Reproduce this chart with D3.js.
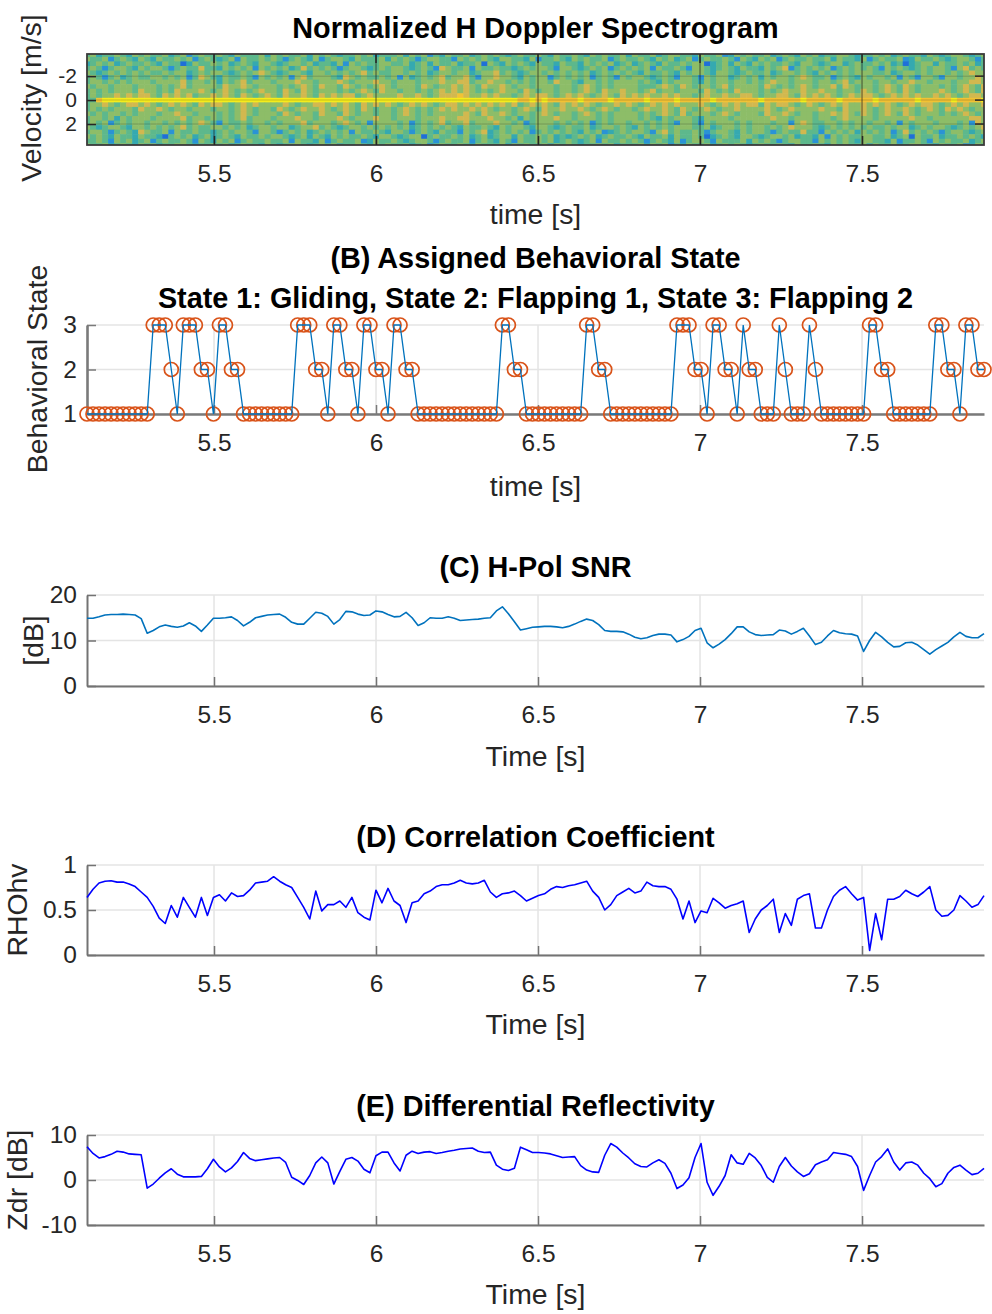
<!DOCTYPE html>
<html>
<head>
<meta charset="utf-8">
<script src="https://cdn.jsdelivr.net/npm/d3@7"></script>
<style>
  body { margin: 0; background: #fff; }
  svg { display: block; font-family: "Liberation Sans", Arial, Helvetica, sans-serif; }
</style>
</head>
<body>
<div id="chart"></div>
<script>
// ---- data ----
const t0 = 5.108;          // first sample [s]
const dt = 0.01858;        // sample spacing [s]
const timeTicks = [5.5, 6, 6.5, 7, 7.5];

const velocityBins = [-3.8, -3.42, -3.04, -2.66, -2.28, -1.9, -1.52, -1.14, -0.76, -0.38, 0,
                      0.38, 0.76, 1.14, 1.52, 1.9, 2.28, 2.66, 3.04, 3.42, 3.8];
const velocityTicks = [-2, 0, 2];

// spectrogram levels 2-9, one string per velocity bin, one char per time sample
const spectrogramRows = [
  "5645565465 6556456356 5565465556 4656556465 6545565645 5564656354 6556456565 4565565465 5654656556 4655645665 5465563465 6556456546 5645566545 5656456554 6545665456",
  "6556356546 5465565635 6545636556 5653565463 5665465556 4656535665 5365656546 6554635565 4656556356 5565465645 6356556536 5465635655 6556465546 3565563465 5654566535",
  "4565645655 6546552465 5656456546 6545665645 5463656556 6556456465 5645562654 6565465546 5546565645 6456546556 5662456465 4656556546 6545664565 5656452456 6465565645",
  "5653566546 5665356557 5546565636 5656457565 6535665456 5665456537 6556365565 5456566536 6545656356 5656365565 3665456546 5546567356 5656356565 6536565456 5665367565",
  "6545656565 6556566456 5665456567 6545665466 5656567565 5665656456 6566456675 6545665656 5656456565 6546556546 5665466545 6556456656 5465656566 6556456656 5665656766",
  "5653564565 5665656357 6546556536 5656367566 6547656556 5636456567 5667536676 6546566356 5656356536 5665456536 6536566456 5646566567 6556356546 5665636536 6536656676",
  "5665656566 6566667566 5646567566 6566676656 6676566676 6566656667 6677566766 5656566576 6546656566 6656546566 6546566566 5656766566 6566567566 6566566766 5666566776",
  "6566566656 6656567566 6657667656 6656567657 6657656567 6566657656 6767657667 6566566656 6567656566 6655567657 6566567566 6657656567 6566757656 6567657656 6656567657",
  "5656566657 6656576667 6567656567 6657657656 6656567657 6656656567 6767656567 6657656656 6567657667 6656756656 6657656576 6656567667 6676656657 6567657656 6676567657",
  "5656676767 7657676756 6767657656 7657667657 6767756766 6676676567 7787667676 6567677656 7676567657 6767667676 6567667667 7656677657 6767656767 7656767676 6767656776",
  "5589999999 9999999999 9999999999 9999999999 9999999999 9999999999 9999999999 9988989888 8898888988 8889888898 8888988888 8898888889 8888898888 8988888898 8888988889",
  "5667656776 7656767657 6776567676 6667656677 6767657676 7656767656 7767676767 6756767657 6767656676 7656767676 6676567676 7757677656 7656767667 6767656767 7656767667",
  "5656566657 6676566566 6566567656 6576567667 6567657656 6567656567 6766767656 6567657667 6676567656 6567667657 6567656676 6667656766 6676657667 6567667656 7657676566",
  "6565665656 6656676656 6656567656 6657656657 6657656656 6567656566 6667657667 6566567656 6567656566 6656567657 5666567656 6657667656 6566767657 6567657656 6656567656",
  "5665646566 6566667566 5656567566 6566676656 6676566676 6566656667 6677666766 5646566676 6566656566 6656546566 6546666566 6666766566 6566567666 6566666766 5666666776",
  "5656356566 5665656567 6536556566 5656667566 6567656366 6656356567 5667566676 6563566656 5656356566 5665656536 6536566656 5666566367 6556656566 5665636566 6566656376",
  "6545665466 5656567565 5665656456 6566456675 6545665656 5656456565 6546556546 5665466545 6556456656 5465656566 6556456656 5665656766 6545656565 6556566456 5665456567",
  "5665356547 6556365565 5456566536 6535656456 5656365565 4665356546 5536567456 5656356565 6546563456 5665367565 5653566546 5665356557 5536565646 5656357565 6535665456",
  "6565465546 5542565645 6456546556 5665456465 4656556546 6545662565 5656456456 6465565645 4565645655 6546556465 5652456546 6545665645 5463656556 6556456265 5645565654",
  "5565365645 6356556536 5465635655 6556365546 3565563465 5654566535 6556356546 5365565645 6545636556 5653565463 5665365556 4656535665 5365656546 6554635565 3656556456",
  "6556456546 5645566545 5656456554 6545665456 5645565465 6556456356 5565465556 4656556465 6545565645 5564656354 6556456565 4565565465 5654656556 4655645665 5465563465"
];

const behaviorState = [
  1,1,1,1,1,1,1,1,1,1, 1,3,3,3,2,1,3,3,3,2, 2,1,3,3,2,2,1,1,1,1,
  1,1,1,1,1,3,3,3,2,2, 1,3,3,2,2,1,3,3,2,2, 1,3,3,2,2,1,1,1,1,1,
  1,1,1,1,1,1,1,1,1,3, 3,2,2,1,1,1,1,1,1,1, 1,1,1,3,3,2,2,1,1,1,
  1,1,1,1,1,1,1,1,3,3, 3,2,2,1,3,3,2,2,1,3, 2,2,1,1,1,3,2,1,1,1,
  3,2,1,1,1,1,1,1,1,1, 3,3,2,2,1,1,1,1,1,1, 1,3,3,2,2,1,3,3,2,2
];

const snrDb = [
  14.9,14.9,15.2,15.6,15.7,15.7,15.8,15.7,15.6,14.8, 11.6,12.2,13.0,13.4,13.1,12.9,13.2,13.9,13.2,12.0,
  13.4,14.9,14.9,15.0,15.2,14.4,13.2,14.0,15.0,15.3, 15.6,15.7,15.8,15.1,14.0,13.6,13.6,14.9,16.2,16.0,
  15.3,13.6,14.6,16.4,16.3,15.8,15.5,15.6,16.5,16.3, 15.7,15.2,15.3,16.2,15.0,13.3,13.9,15.0,14.9,14.9,
  15.2,14.9,14.4,14.5,14.6,14.7,14.9,15.0,16.5,17.4, 15.9,14.1,12.3,12.6,12.9,13.0,13.1,13.1,13.0,12.8,
  13.1,13.6,14.2,14.7,14.4,13.5,12.2,12.0,12.0,11.9, 11.4,10.7,10.4,10.6,11.1,11.4,11.4,11.2,9.7,10.2,
  10.9,12.2,12.7,9.5,8.4,9.2,10.2,11.5,13.0,13.0, 11.9,11.3,11.1,11.2,11.3,12.3,12.1,11.4,12.0,12.7,
  11.0,9.1,9.6,11.0,12.2,11.7,11.5,11.4,11.0,7.6, 10.0,11.8,10.8,9.6,8.6,8.7,9.5,9.6,9.0,8.0,
  7.0,8.0,8.8,9.6,10.8,11.8,10.9,10.6,10.6,11.5
];

const rhoHv = [
  0.64,0.73,0.80,0.82,0.825,0.81,0.81,0.79,0.76,0.70, 0.64,0.54,0.41,0.35,0.55,0.42,0.64,0.53,0.42,0.64,
  0.44,0.64,0.67,0.60,0.69,0.65,0.66,0.72,0.80,0.81, 0.82,0.87,0.82,0.78,0.75,0.64,0.53,0.40,0.71,0.49,
  0.56,0.56,0.60,0.53,0.64,0.47,0.42,0.39,0.72,0.58, 0.74,0.60,0.55,0.36,0.58,0.60,0.68,0.71,0.76,0.78,
  0.78,0.80,0.83,0.80,0.79,0.80,0.83,0.70,0.64,0.68, 0.69,0.71,0.66,0.60,0.63,0.66,0.68,0.73,0.76,0.75,
  0.77,0.78,0.80,0.82,0.71,0.64,0.50,0.56,0.66,0.70, 0.74,0.69,0.71,0.81,0.77,0.76,0.76,0.73,0.62,0.40,
  0.60,0.36,0.49,0.47,0.63,0.58,0.52,0.55,0.57,0.60, 0.25,0.40,0.50,0.55,0.62,0.25,0.46,0.33,0.62,0.66,
  0.68,0.30,0.30,0.50,0.65,0.72,0.76,0.68,0.61,0.64, 0.05,0.46,0.17,0.62,0.62,0.65,0.72,0.68,0.65,0.70,
  0.76,0.50,0.43,0.44,0.50,0.66,0.60,0.53,0.56,0.66
];

const zdrDb = [
  7.4,5.9,4.9,5.2,5.7,6.4,6.2,5.8,5.7,5.6, -1.8,-0.9,0.4,1.6,2.5,1.3,0.7,0.7,0.7,0.8,
  2.5,4.6,2.9,1.8,2.7,4.1,6.1,4.8,4.3,4.5, 4.7,4.9,5.0,3.9,0.6,-0.1,-1.0,1.0,3.8,5.1,
  3.8,-0.9,1.9,4.6,5.0,4.2,2.4,1.6,5.4,6.2, 6.2,3.8,2.0,5.5,6.4,5.9,6.2,6.3,5.9,6.1,
  6.4,6.6,6.9,7.0,7.1,6.4,6.1,6.2,3.3,2.4, 2.1,2.6,7.3,6.7,6.1,6.1,6.0,5.8,5.4,5.0,
  5.1,5.2,3.2,2.2,1.8,1.7,5.5,8.1,7.3,6.0, 4.9,3.6,3.0,2.9,3.8,4.5,3.7,1.5,-1.9,-1.1,
  0.5,5.0,8.1,-0.5,-3.4,-1.4,1.0,5.6,3.8,3.5, 5.9,4.9,3.2,0.6,-0.5,3.0,5.0,3.1,1.8,0.8,
  1.4,3.4,4.0,4.5,6.1,5.9,5.7,5.2,3.0,-2.3, 1.0,4.0,5.2,6.9,4.0,2.2,3.8,4.0,3.3,1.5,
  0.3,-1.5,-0.8,1.5,2.8,3.3,2.2,1.2,1.5,2.6
];

const time = behaviorState.map((_, i) => t0 + i * dt);

// ---- layout ----
const width = 992, height = 1314;
const left = 87, right = 984;
const fontTick = 24.5, fontLabel = 28.4, fontTitle = 28.8;
const axisGray = "#737373", textGray = "#262626", gridGray = "#e4e4e4";

const svg = d3.select("#chart").append("svg")
  .attr("width", width).attr("height", height);

const x = d3.scaleLinear().domain([t0, t0 + (time.length - 1) * dt]).range([left, right]);
const fmt = d => String(d);

function title(text, y) {
  svg.append("text")
    .attr("x", (left + right) / 2).attr("y", y)
    .attr("text-anchor", "middle")
    .attr("font-weight", "bold").attr("font-size", fontTitle).attr("fill", "#000")
    .text(text);
}

function xLabel(text, y) {
  svg.append("text")
    .attr("x", (left + right) / 2).attr("y", y)
    .attr("text-anchor", "middle")
    .attr("font-size", fontLabel).attr("fill", textGray)
    .text(text);
}

function yLabel(text, cx, cy) {
  svg.append("text")
    .attr("transform", `translate(${cx},${cy}) rotate(-90)`)
    .attr("text-anchor", "middle").attr("dominant-baseline", "central")
    .attr("font-size", fontLabel).attr("fill", textGray)
    .text(text);
}

function grid(y, yTicks) {
  const yb = d3.max(y.range()), yt = d3.min(y.range());
  const g = svg.append("g");
  g.selectAll("line.v").data(timeTicks).join("line").attr("class", "v")
    .attr("x1", d => x(d)).attr("x2", d => x(d)).attr("y1", yt).attr("y2", yb)
    .attr("stroke", gridGray).attr("stroke-width", 1.5);
  g.selectAll("line.h").data(yTicks).join("line").attr("class", "h")
    .attr("x1", left).attr("x2", right).attr("y1", d => y(d)).attr("y2", d => y(d))
    .attr("stroke", gridGray).attr("stroke-width", 1.5);
}

function axes(y, yTicks, color, width, yFont = fontTick) {
  const yb = d3.max(y.range());
  const ax = svg.append("g").attr("transform", `translate(0,${yb})`)
    .call(d3.axisBottom(x).tickValues(timeTicks).tickFormat(fmt)
      .tickSizeInner(-9).tickSizeOuter(0).tickPadding(20));
  const ay = svg.append("g").attr("transform", `translate(${left},0)`)
    .call(d3.axisLeft(y).tickValues(yTicks).tickFormat(fmt)
      .tickSizeInner(-9).tickSizeOuter(0).tickPadding(10));
  [ax, ay].forEach(a => {
    a.select(".domain").attr("stroke", color).attr("stroke-width", width);
    a.selectAll(".tick line").attr("stroke", color).attr("stroke-width", 1.5);
    a.selectAll(".tick text").attr("fill", textGray)
      .attr("font-size", fontTick).attr("font-family", "Liberation Sans, Arial, sans-serif");
  });
  ay.selectAll(".tick text").attr("font-size", yFont);
}

// ---- (A) spectrogram ----
const yA = d3.scaleLinear().domain([-3.85, 3.75]).range([54, 145]);
const color = d3.scaleLinear()
  .domain([2, 3, 4, 5, 6, 7, 8, 9])
  .range(["#1f6fd8", "#2a93d5", "#35a9b0", "#5db88c", "#8dbd68", "#d2b84f", "#f2c234", "#f5ec1c"]);

svg.append("clipPath").attr("id", "clipA").append("rect")
  .attr("x", left).attr("y", yA(-3.85)).attr("width", right - left).attr("height", yA(3.75) - yA(-3.85));

const cells = [];
spectrogramRows.forEach((row, j) => {
  row.replace(/ /g, "").split("").forEach((c, i) => {
    cells.push({ t: time[i], v: velocityBins[j], level: +c });
  });
});
const cellW = x(t0 + dt) - x(t0);
const cellH = yA(0.38) - yA(0);
svg.append("g").attr("clip-path", "url(#clipA)")
  .selectAll("rect").data(cells).join("rect")
  .attr("x", d => x(d.t) - cellW / 2).attr("y", d => yA(d.v) - cellH / 2)
  .attr("width", cellW + 0.6).attr("height", cellH + 0.6)
  .attr("fill", d => color(d.level));

const gA = svg.append("g");
gA.selectAll("line.v").data(timeTicks).join("line").attr("class", "v")
  .attr("x1", d => x(d)).attr("x2", d => x(d)).attr("y1", 54).attr("y2", 145)
  .attr("stroke", "#1a1a1a").attr("stroke-opacity", 0.45).attr("stroke-width", 1.5);
gA.selectAll("line.h").data(velocityTicks).join("line").attr("class", "h")
  .attr("x1", left).attr("x2", right).attr("y1", d => yA(d)).attr("y2", d => yA(d))
  .attr("stroke", "#1a1a1a").attr("stroke-opacity", 0.15).attr("stroke-width", 1.5);
gA.append("rect").attr("x", left).attr("y", 54).attr("width", right - left).attr("height", 91)
  .attr("fill", "none").attr("stroke", "#3a3a3a").attr("stroke-width", 1.8);
// top ticks and right ticks
gA.selectAll("line.tt").data(timeTicks).join("line").attr("class", "tt")
  .attr("x1", d => x(d)).attr("x2", d => x(d)).attr("y1", 54).attr("y2", 63)
  .attr("stroke", "#262626").attr("stroke-width", 1.5);
gA.selectAll("line.rt").data(velocityTicks).join("line").attr("class", "rt")
  .attr("x1", right).attr("x2", right - 9).attr("y1", d => yA(d)).attr("y2", d => yA(d))
  .attr("stroke", "#262626").attr("stroke-width", 1.5);
axes(yA, velocityTicks, "#262626", 0, 21);
title("Normalized H Doppler Spectrogram", 38);
xLabel("time [s]", 224);
yLabel("Velocity [m/s]", 31, 98);

// ---- (B) behavioural state ----
const yB = d3.scaleLinear().domain([1, 3]).range([414, 325]);
grid(yB, [1, 2, 3]);
axes(yB, [1, 2, 3], "#7a7a7a", 2.6);
const stateData = behaviorState.map((s, i) => ({ t: time[i], s }));
svg.append("g").selectAll("circle").data(stateData).join("circle")
  .attr("cx", d => x(d.t)).attr("cy", d => yB(d.s)).attr("r", 7)
  .attr("fill", "none").attr("stroke", "#D95319").attr("stroke-width", 1.7);
svg.append("path").datum(stateData)
  .attr("d", d3.line().x(d => x(d.t)).y(d => yB(d.s)))
  .attr("fill", "none").attr("stroke", "#0072BD").attr("stroke-width", 1.3);
title("(B) Assigned Behavioral State", 268);
title("State 1: Gliding, State 2: Flapping 1, State 3: Flapping 2", 308);
xLabel("time [s]", 496);
yLabel("Behavioral State", 37, 369);

// ---- line panels ----
function linePanel(values, y, yTicks, stroke, t, yl, ylx, titleY, xlabelY) {
  grid(y, yTicks);
  axes(y, yTicks, axisGray, 2);
  svg.append("path").datum(values)
    .attr("d", d3.line().x((d, i) => x(time[i])).y(d => y(d)))
    .attr("fill", "none").attr("stroke", stroke).attr("stroke-width", 1.6)
    .attr("stroke-linejoin", "round");
  title(t, titleY);
  xLabel("Time [s]", xlabelY);
  const yb = d3.max(y.range()), yt = d3.min(y.range());
  yLabel(yl, ylx, (yb + yt) / 2);
}

linePanel(snrDb, d3.scaleLinear().domain([0, 20]).range([686, 595]), [0, 10, 20],
  "#0072BD", "(C) H-Pol SNR", "[dB]", 33, 577, 766);
linePanel(rhoHv, d3.scaleLinear().domain([0, 1]).range([955, 865]), [0, 0.5, 1],
  "#0000FF", "(D) Correlation Coefficient", "RHOhv", 17, 847, 1034);
linePanel(zdrDb, d3.scaleLinear().domain([-10, 10]).range([1225, 1135]), [-10, 0, 10],
  "#0000FF", "(E) Differential Reflectivity", "Zdr [dB]", 17, 1116, 1304);
</script>
</body>
</html>
